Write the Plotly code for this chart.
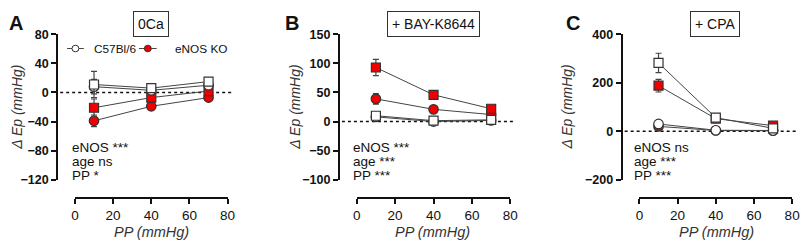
import plotly.graph_objects as go

W, H = 809, 248
FONT = "Arial, Liberation Sans, sans-serif"

# ---------------- data ----------------
pp = [10, 40, 70]

panel_titles = ["0Ca", "+ BAY-K8644", "+ CPA"]
panel_letters = ["A", "B", "C"]
y_ranges = [[-120, 80], [-100, 150], [-200, 400]]
y_dticks = [40, 50, 200]
x_ticks = [0, 20, 40, 60, 80]
stats = [["eNOS ***", "age ns", "PP *"],
         ["eNOS ***", "age ***", "PP ***"],
         ["eNOS ns", "age ***", "PP ***"]]

# C57Bl/6 young (open circle), C57Bl/6 old (open square),
# eNOS KO young (red circle), eNOS KO old (red square)
wt_circle = [[8, 3, 10], [8, 0, 2], [30, 4, 3]]
wt_circle_err = [[10, 4, 4], [2, 1, 1], [5, 2, 2]]
wt_square = [[11, 6, 15], [10, 1.5, 3], [282, 56, 12]]
wt_square_err = [[18, 5, 4], [3, 2, 2], [40, 10, 4]]
ko_circle = [[-39, -19, -7], [39, 21, 12], [20, 3, 2]]
ko_circle_err = [[8, 5, 3], [9, 3, 2], [4, 1, 1]]
ko_square = [[-21, -7, 2], [93, 46, 22], [188, 52, 23]]
ko_square_err = [[12, 5, 4], [14, 4, 4], [26, 8, 5]]

legend_names = ["C57Bl/6", "eNOS KO"]

# ---------------- layout geometry (pixels) ----------------
yaxis_x = [54, 340, 627]
xdom = [(72, 227), (358, 514), (645, 800)]
ytop, ybot = 29, 183
xaxis_y = 202

RED = "#f00000"
EDGE = "#333333"
LINE = "#444444"


def fx(px):
    return px / W


def fy(py):
    return 1 - py / H


fig = go.Figure()
layout = dict(
    width=W, height=H, margin=dict(l=0, r=0, t=0, b=0),
    paper_bgcolor="white", plot_bgcolor="rgba(0,0,0,0)",
    showlegend=False, font=dict(family=FONT, color="#111"),
)
shapes, annotations = [], []

for i in range(3):
    sx = "" if i == 0 else str(i + 1)
    xa, ya = "x" + sx, "y" + sx
    layout["xaxis" + sx] = dict(
        domain=[fx(xdom[i][0]), fx(xdom[i][1])], range=[0, 80],
        anchor="free", position=fy(xaxis_y), showline=True, linecolor="#111",
        linewidth=2, ticks="outside", ticklen=5, tickwidth=2, tickcolor="#111",
        tickvals=x_ticks, tickfont=dict(size=13.5, family=FONT, color="#111"),
        ticklabeloverflow="allow",
        showgrid=False, zeroline=False, fixedrange=True,
    )
    layout["yaxis" + sx] = dict(
        domain=[fy(ybot), fy(ytop)], range=y_ranges[i], anchor="free",
        position=fx(yaxis_x[i]), showline=True, linecolor="#111", linewidth=2,
        ticks="outside", ticklen=5, tickwidth=2, tickcolor="#111",
        dtick=y_dticks[i], tick0=0,
        tickfont=dict(size=12.5, family=FONT, color="#111", weight="bold"),
        ticklabeloverflow="allow",
        showgrid=False, zeroline=False, fixedrange=True,
    )

    # dotted zero line
    shapes.append(dict(type="line", xref="paper", yref=ya,
                       x0=fx(yaxis_x[i] + 3), x1=fx(xdom[i][1] + 4), y0=0, y1=0,
                       line=dict(color="#111", width=1.5, dash="dot"), layer="below"))

    series = [
        (ko_circle[i], ko_circle_err[i], "circle", RED),
        (ko_square[i], ko_square_err[i], "square", RED),
        (wt_circle[i], wt_circle_err[i], "circle", "white"),
        (wt_square[i], wt_square_err[i], "square", "white"),
    ]
    for vals, errs, sym, fill in series:
        fig.add_trace(go.Scatter(
            x=pp, y=vals, xaxis=xa, yaxis=ya, mode="lines+markers",
            line=dict(color=LINE, width=1),
            marker=dict(symbol=sym, size=9.5 if sym == "circle" else 9, color=fill,
                        line=dict(color=EDGE, width=1.2)),
            error_y=dict(type="data", array=errs, color=LINE, thickness=1.2, width=3),
            cliponaxis=False, showlegend=False, hoverinfo="skip",
        ))

    # panel letter
    annotations.append(dict(text="<b>%s</b>" % panel_letters[i], xref="paper", yref="paper",
                            x=fx([12.5, 292, 578][i]), y=fy(16.5), showarrow=False,
                            xanchor="center", yanchor="middle",
                            font=dict(size=20, family=FONT, color="#111")))
    # boxed title
    annotations.append(dict(text=panel_titles[i], xref="paper", yref="paper",
                            x=fx([149, 436, 722][i]), y=fy(18), showarrow=False,
                            xanchor="center", yanchor="middle", bordercolor="#333",
                            borderwidth=1, borderpad=4, bgcolor="white",
                            font=dict(size=14, family=FONT, color="#111")))
    # y title
    annotations.append(dict(text="<i>\u0394 Ep (mmHg)</i>", xref="paper", yref="paper",
                            x=fx([13, 295, 571][i]), y=fy(106), showarrow=False,
                            textangle=-90, xanchor="center", yanchor="middle",
                            font=dict(size=14, family=FONT, color="#333")))
    # x title
    annotations.append(dict(text="<i>PP (mmHg)</i>", xref="paper", yref="paper",
                            x=fx([150, 435, 723][i]), y=fy(238), showarrow=False,
                            xanchor="center", yanchor="middle",
                            font=dict(size=14.5, family=FONT, color="#333")))
    # stats text
    for k, s in enumerate(stats[i]):
        annotations.append(dict(text=s, xref="paper", yref="paper",
                                x=fx([67, 352, 637][i]), y=fy(149 + 15 * k), showarrow=False,
                                xanchor="left", yanchor="middle",
                                font=dict(size=13.5, family=FONT, color="#111")))

# custom legend (panel A)
leg_y = 44
for (l0, l1, mc, tx), fill, name in zip([(64, 81, 72.5, 89), (137, 155, 146, 172)],
                                        ["white", RED], legend_names):
    shapes.append(dict(type="line", xref="paper", yref="paper", x0=fx(l0), x1=fx(l1),
                       y0=fy(leg_y), y1=fy(leg_y), line=dict(color=LINE, width=1)))
    r = 3.5
    shapes.append(dict(type="circle", xref="paper", yref="paper",
                       x0=fx(mc - r), x1=fx(mc + r), y0=fy(leg_y + r), y1=fy(leg_y - r),
                       fillcolor=fill, line=dict(color=EDGE, width=1)))
    annotations.append(dict(text=name, xref="paper", yref="paper", x=fx(tx), y=fy(leg_y),
                            showarrow=False, xanchor="left", yanchor="middle",
                            font=dict(size=11.8, family=FONT, color="#111")))

layout["shapes"] = shapes
layout["annotations"] = annotations
fig.update_layout(**layout)
fig.write_html("out.html", config={"displayModeBar": False, "staticPlot": True},
               post_script="document.body.style.margin='0';document.body.style.overflow='hidden';")
